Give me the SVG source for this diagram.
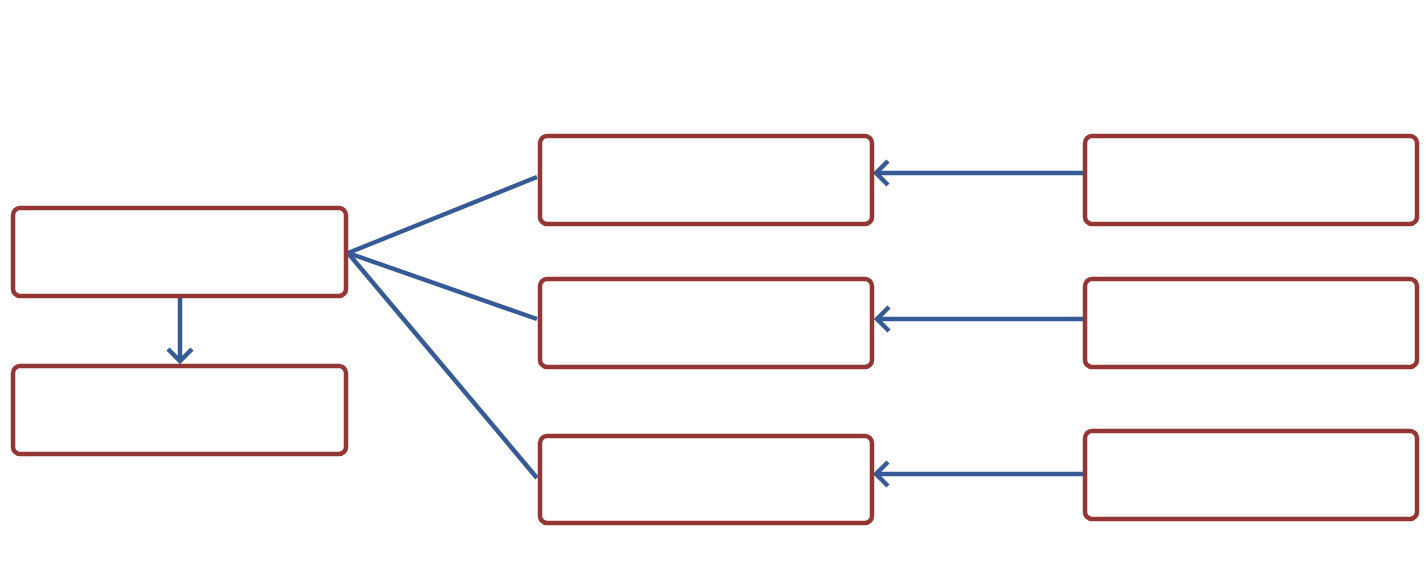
<svg xmlns="http://www.w3.org/2000/svg" width="1428" height="588" viewBox="0 0 1428 588">
<style>
.node{fill:#ffffff;stroke:#943634;stroke-width:4.5}
.conn{fill:none;stroke:#365A96;stroke-width:4.5}
</style>
<defs>
<marker id="arr" markerUnits="userSpaceOnUse" viewBox="-16 -16 20 32" refX="0" refY="0" markerWidth="20" markerHeight="32" orient="auto" overflow="visible">
<path d="M-12,-12 L0,0 L-12,12" fill="none" stroke="#365A96" stroke-width="4.5"/>
</marker>
</defs>
<rect width="1428" height="588" fill="#ffffff"/>
<g id="connectors">
<line class="conn" x1="180" y1="297" x2="180" y2="361" marker-end="url(#arr)"/>
<line class="conn" x1="348" y1="253" x2="537" y2="177"/>
<line class="conn" x1="348" y1="253" x2="537" y2="319"/>
<line class="conn" x1="348" y1="253" x2="537" y2="478"/>
<line class="conn" x1="1083" y1="173" x2="876" y2="173" marker-end="url(#arr)"/>
<line class="conn" x1="1083" y1="319" x2="877" y2="319" marker-end="url(#arr)"/>
<line class="conn" x1="1083" y1="474" x2="876" y2="474" marker-end="url(#arr)"/>
</g>
<g id="node-l1"><rect class="node" x="13" y="208" width="333" height="88" rx="7"/></g>
<g id="node-l2"><rect class="node" x="13" y="366" width="333" height="88" rx="7"/></g>
<g id="node-m1"><rect class="node" x="540" y="136" width="332" height="88" rx="7"/></g>
<g id="node-m2"><rect class="node" x="540" y="279" width="332" height="88" rx="7"/></g>
<g id="node-m3"><rect class="node" x="540" y="436" width="332" height="87" rx="7"/></g>
<g id="node-r1"><rect class="node" x="1085" y="136" width="332" height="88" rx="7"/></g>
<g id="node-r2"><rect class="node" x="1085" y="279" width="332" height="88" rx="7"/></g>
<g id="node-r3"><rect class="node" x="1085" y="431" width="332" height="88" rx="7"/></g>
</svg>
